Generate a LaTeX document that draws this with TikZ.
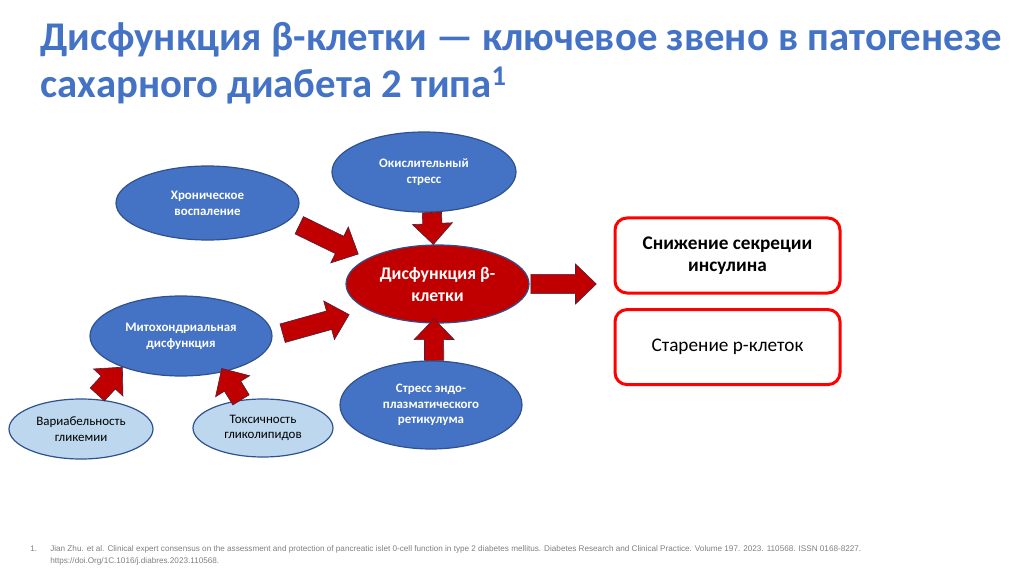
\documentclass[tikz,border=0pt]{standalone}
\usepackage{fontspec}
\setmainfont{Carlito}
\newfontfamily\notefont{Liberation Sans}
\usetikzlibrary{positioning,calc,shapes.geometric}
\definecolor{slideblue}{HTML}{4472C4}
\definecolor{slideedge}{HTML}{2F528F}
\definecolor{slidelight}{HTML}{BDD7EE}
\definecolor{slidered}{HTML}{C00000}
\definecolor{boxred}{HTML}{FF0000}
\definecolor{notegrey}{HTML}{7F7F7F}

% block arrow between two points: from, to, gap at start, gap at end
\def\arrowsw{2.4mm}
\def\arrowhw{5mm}
\def\arrowhl{5.2mm}
\newcommand{\blockarrow}[4]{%
  \path (#1) coordinate (ba-a);
  \path (#2) coordinate (ba-b);
  \path ($(ba-a)!#3!(ba-b)$) coordinate (ba-s);
  \path ($(ba-b)!#4!(ba-a)$) coordinate (ba-t);
  \path ($(ba-t)!\arrowhl!(ba-s)$) coordinate (ba-h);
  \draw[blockarr] ($(ba-s)!\arrowsw!90:(ba-t)$) -- ($(ba-h)!\arrowsw!90:(ba-t)$)
    -- ($(ba-h)!\arrowhw!90:(ba-t)$) -- (ba-t)
    -- ($(ba-h)!\arrowhw!-90:(ba-t)$) -- ($(ba-h)!\arrowsw!-90:(ba-t)$)
    -- ($(ba-s)!\arrowsw!-90:(ba-t)$) -- cycle;
}

\begin{document}
\begin{tikzpicture}[x=0.25mm,y=-0.25mm,
  cause/.style={ellipse,draw=slideedge,line width=0.3mm,fill=slideblue,text=white,inner sep=0pt,align=center,font=\bfseries\fontsize{9.2}{11.2}\selectfont},
  subcause/.style={ellipse,draw=slideedge,line width=0.3mm,fill=slidelight,text=black,inner sep=0pt,align=center,font=\fontsize{9.2}{11.2}\selectfont},
  core/.style={ellipse,draw=slideedge,line width=0.3mm,fill=slidered,text=white,inner sep=0pt,align=center,font=\bfseries\fontsize{12.6}{15.6}\selectfont},
  result/.style={draw=boxred,line width=0.75mm,rounded corners=3mm,fill=white,minimum width=56.25mm,minimum height=18.75mm,align=center,font=\fontsize{13.7}{15.6}\selectfont},
  titleline/.style={anchor=base west,inner sep=0pt,text=slideblue,font=\bfseries\fontsize{29}{34}\selectfont},
  noteline/.style={anchor=base west,inner sep=0pt,text=notegrey,font=\notefont\fontsize{5.8}{7}\selectfont},
  blockarr/.style={draw=slideedge!60!slidered!70!black,line width=0.15mm,fill=slidered,line join=miter}
]
\useasboundingbox (0,0) rectangle (1024,574);

\node[titleline] (title1) at (40,51) {Дисфункция β-клетки — ключевое звено в патогенезе};
\node[titleline] (title2) at (40,98) {сахарного диабета 2 типа\textsuperscript{1}};

\node[cause,minimum width=45.75mm,minimum height=18.5mm] (chron) at (207.5,203) {Хроническое\\воспаление};
\node[cause,minimum width=46mm,minimum height=20mm] (oxid) at (424,172) {Окислительный\\стресс};
\node[core,minimum width=45.75mm,minimum height=19.5mm] (dys) at (437.5,284) {Дисфункция β-\\клетки};
\node[cause,minimum width=45.5mm,minimum height=20mm] (mito) at (181,336) {Митохондриальная\\дисфункция};
\node[subcause,minimum width=36mm,minimum height=15mm] (var) at (81,429) {Вариабельность\\гликемии};
\node[subcause,minimum width=35mm,minimum height=14.5mm] (tox) at (263,428) {Токсичность\\гликолипидов};
\node[cause,minimum width=45.5mm,minimum height=22mm] (er) at (431,405) {Стресс эндо-\\плазматического\\ретикулума};

\node[result,font=\bfseries\fontsize{13.7}{15.6}\selectfont] (secr) at (727.5,255.5) {Снижение секреции\\инсулина};
\node[result,below=3.4mm of secr] (aging) {Старение р-клеток};

\blockarrow{chron.-12}{dys.160}{2.8mm}{2.5mm}
\blockarrow{oxid.-79}{dys.96}{0mm}{0mm}
\blockarrow{er.86}{dys.-95}{0mm}{-1.2mm}
\blockarrow{mito.east}{dys.200}{2.6mm}{4.7mm}
\blockarrow{var.68}{mito.208}{1.5mm}{0mm}
\blockarrow{tox.128}{mito.-40}{0mm}{-1mm}
\blockarrow{dys.east}{dys.east -| secr.west}{0.3mm}{4.3mm}

\node[noteline] (fnnum) at (30,551) {1.};
\node[noteline] (fntext1) at (50,551) {Jian Zhu. et al. Clinical expert consensus on the assessment and protection of pancreatic islet 0-cell function in type 2 diabetes mellitus. Diabetes Research and Clinical Practice. Volume 197. 2023. 110568. ISSN 0168-8227.};
\node[noteline] (fntext2) at (50,563) {https://doi.Org/1C.1016/j.diabres.2023.110568.};
\end{tikzpicture}
\end{document}
